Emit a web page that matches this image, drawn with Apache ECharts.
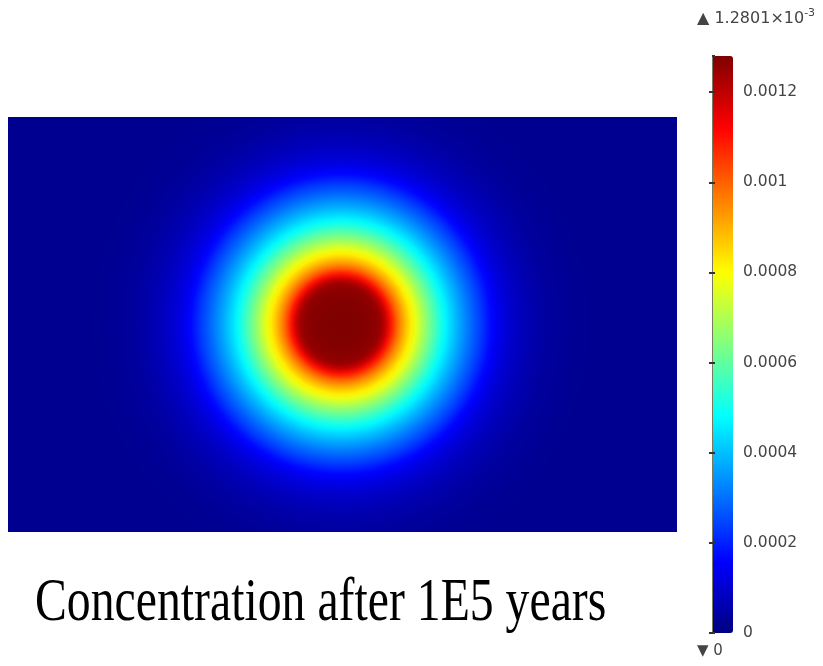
<!DOCTYPE html>
<html>
<head>
<meta charset="utf-8">
<script src="https://cdn.jsdelivr.net/npm/echarts@6/dist/echarts.min.js"></script>
<style>html,body{margin:0;padding:0;background:#fff}#c{width:823px;height:666px}</style>
</head>
<body>
<div id="c"></div>
<script>
// domain extent (arbitrary length units) and source location
var domainWidth = 669, domainHeight = 415;
var sourceX = 333, sourceY = 208;
// distance from the source centre and concentration (x1e-3)
var distances = [0,5,10,15,20,25,30,35,40,45,50,55,60,65,70,75,80,85,90,95,100,105,110,115,120,125,130,135,140,145,150,155,160,165,170,175,180,185,190,195,200,210,230,250];
var concentration = [1.2801,1.2800,1.2795,1.2785,1.277,1.274,1.270,1.262,1.245,1.185,1.095,1.010,0.940,0.878,0.822,0.770,0.715,0.660,0.610,0.560,0.510,0.467,0.428,0.392,0.358,0.325,0.293,0.262,0.232,0.200,0.168,0.146,0.126,0.110,0.097,0.086,0.076,0.068,0.060,0.053,0.047,0.036,0.026,0.020];
var farField = 0.020; // x1e-3
var cMin = 0, cMax = 1.2801e-3;
var caption = 'Concentration after 1E5 years';
var jet = ['#000080','#0000ff','#0080ff','#00ffff','#80ff80','#ffff00','#ff8000','#ff0000','#800000'];

// rings listed from the outermost inwards so inner discs are painted on top
var ringData = [];
for (var i = distances.length - 1; i >= 0; i--) ringData.push([distances[i], concentration[i] * 1e-3]);

function renderBackground(params, api) {
  var a = api.coord([0, domainHeight]);
  var b = api.coord([domainWidth, 0]);
  return {type:'rect', shape:{x:a[0], y:a[1], width:b[0]-a[0], height:b[1]-a[1]}, style:{fill:api.visual('color')}};
}
function renderRing(params, api) {
  var idx = params.dataIndexInside;
  var R = api.value(0);
  if (!(R > 0)) return null;
  var c = api.coord([sourceX, sourceY]);
  var rp = api.coord([sourceX + R, sourceY])[0] - c[0];
  var rIn = api.value(0, idx + 1);
  var rinp = api.coord([sourceX + rIn, sourceY])[0] - c[0];
  var col = api.visual('color');
  var colIn = api.visual('color', idx + 1);
  return {type:'circle', shape:{cx:c[0], cy:c[1], r:rp},
    style:{fill:{type:'radial', x:c[0], y:c[1], r:rp, global:true,
      colorStops:[{offset:0, color:colIn}, {offset:rinp/rp, color:colIn}, {offset:1, color:col}]}}};
}

var chart = echarts.init(document.getElementById('c'), null, {renderer:'canvas'});
var option = {
  animation:false,
  grid:[
    {left:8, top:117, width:669, height:415},
    {left:712, top:56, width:21, height:577}
  ],
  xAxis:[
    {gridIndex:0, type:'value', min:0, max:domainWidth, show:false},
    {gridIndex:1, type:'value', show:false, min:0, max:1}
  ],
  yAxis:[
    {gridIndex:0, type:'value', min:0, max:domainHeight, show:false},
    {gridIndex:1, type:'value', position:'right', min:cMin, max:cMax, interval:0.0002, z:100,
     axisLine:{show:true, lineStyle:{color:'#7a7a60', width:1}},
     axisTick:{show:true, inside:true, length:3, lineStyle:{color:'#333', width:2}},
     splitLine:{show:false},
     axisLabel:{showMaxLabel:false, margin:10, color:'#444', fontSize:15.5, fontFamily:'DejaVu Sans'}},
    {gridIndex:1, type:'value', position:'left', min:cMin, max:cMax, interval:0.0002, z:100,
     axisLine:{show:true, lineStyle:{color:'#7a7a60', width:1}},
     axisTick:{show:true, inside:true, length:3, lineStyle:{color:'#333', width:2}},
     splitLine:{show:false}, axisLabel:{show:false}}
  ],
  visualMap:{
    type:'continuous', min:cMin, max:cMax, dimension:1, seriesIndex:[0,1], calculable:false,
    left:712, top:56, itemWidth:21, itemHeight:577, padding:0, text:null,
    inRange:{color:jet}
  },
  graphic:[
    {type:'text', x:697, y:19, style:{
      text:'{m|▲ 1.2801×10}{s|-3}', verticalAlign:'middle',
      rich:{m:{fontSize:16, fontFamily:'DejaVu Sans', fill:'#444'},
            s:{fontSize:11, fontFamily:'DejaVu Sans', fill:'#444', padding:[0,0,12,0]}}}},
    {type:'text', x:697, y:651, style:{text:'▼ 0', font:'15px "DejaVu Sans"', fill:'#444', verticalAlign:'middle'}},
    {type:'text', x:35, y:604, scaleX:0.77, style:{text:caption, font:'62px "Liberation Serif"', fill:'#000', verticalAlign:'middle'}}
  ],
  series:[
    {type:'custom', xAxisIndex:0, yAxisIndex:0, silent:true, clip:true,
     renderItem:renderBackground, data:[[0, farField * 1e-3]]},
    {type:'custom', xAxisIndex:0, yAxisIndex:0, silent:true, clip:true,
     renderItem:renderRing, data:ringData}
  ]
};
chart.setOption(option);
</script>
</body>
</html>
